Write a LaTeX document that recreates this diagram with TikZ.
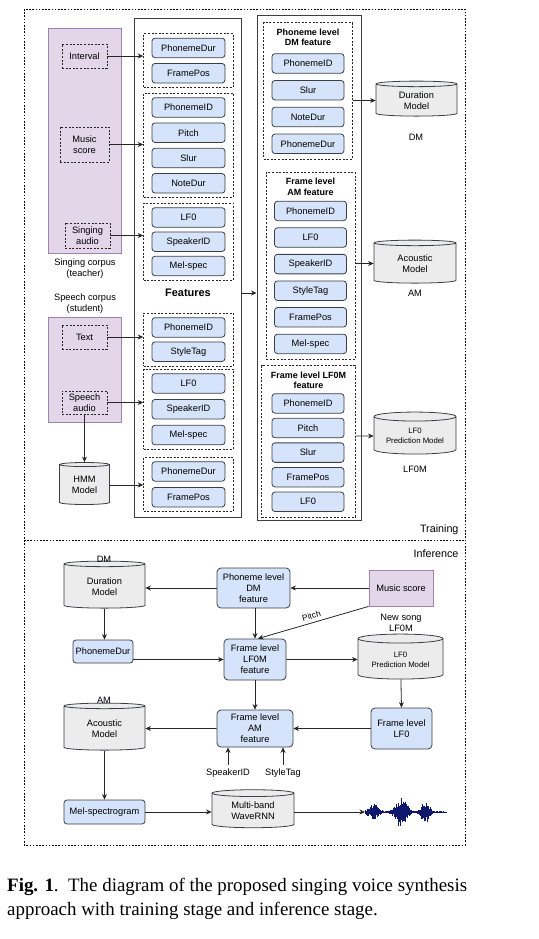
\documentclass[tikz,border=0pt]{standalone}
\usepackage{fontspec}
\setmainfont{Liberation Sans}
\newfontfamily\capfont{Liberation Serif}
\usetikzlibrary{arrows.meta,chains,positioning,fit,shapes.geometric}

\definecolor{featfill}{RGB}{213,228,250}
\definecolor{boxline}{RGB}{60,63,68}
\definecolor{corpfill}{RGB}{226,214,232}
\definecolor{corpline}{RGB}{160,130,175}
\definecolor{dbfill}{RGB}{236,236,236}
\definecolor{wavecol}{RGB}{16,24,110}

\tikzset{
  every node/.style={font=\fontsize{9.3}{11}\selectfont},
  feat/.style={draw=boxline,fill=featfill,rounded corners=3bp,line width=0.8bp,
    minimum width=73bp,minimum height=19.5bp,inner sep=1bp,align=center},
  grp/.style={draw=black!85,line width=0.7bp,dash pattern=on 2bp off 1.6bp,inner xsep=8bp,inner ysep=4bp},
  src/.style={draw=black!85,line width=0.7bp,dash pattern=on 2bp off 1.6bp,align=center,inner sep=1bp},
  corpus/.style={draw=corpline,fill=corpfill,line width=0.8bp,align=center},
  db/.style={cylinder,shape border rotate=90,aspect=0.15,draw=boxline,fill=dbfill,
    line width=0.8bp,align=center,inner sep=1bp},
  ttl/.style={font=\bfseries\fontsize{9}{10.5}\selectfont,align=center,inner sep=1bp},
  arr/.style={-{Stealth[length=5.5bp,width=5bp]},line width=0.8bp,draw=black!85},
}

\begin{document}
\begin{tikzpicture}[x=1bp,y=-1bp]
\useasboundingbox (0,0) rectangle (539,939);

% outer frame
\draw[line width=0.7bp,dash pattern=on 1.6bp off 1.6bp] (24,9) rectangle (465,845);
\draw[line width=0.7bp,dash pattern=on 1.6bp off 1.6bp] (24,540) -- (465,540);
\node[anchor=east,font=\fontsize{10.8}{12}\selectfont] (trainlbl) at (462,530) {Training};
\node[anchor=east,font=\fontsize{10.8}{12}\selectfont] (inflbl) at (462,554) {Inference};

% corpora
\node[corpus,minimum width=73bp,minimum height=225bp] (singcorp) at (84.5,140.5) {};
\node[corpus,minimum width=73bp,minimum height=105bp] (speechcorp) at (84.5,369.5) {};
\node[align=center] (singlbl) at (85,268.5) {Singing corpus\\(teacher)};
\node[align=center] (speechlbl) at (85,304) {Speech corpus\\(student)};

\node[src,minimum width=45bp,minimum height=24bp] (interval) at (84.5,56) {Interval};
\node[src,minimum width=49bp,minimum height=35bp] (music) at (84.5,144.5) {Music\\score};
\node[src,minimum width=45bp,minimum height=25bp] (singaud) at (87.5,235.5) {Singing\\audio};
\node[src,minimum width=45bp,minimum height=24bp] (text) at (84.5,337) {Text};
\node[src,minimum width=45bp,minimum height=23bp] (speechaud) at (84.5,402.5) {Speech\\audio};
\node[db,minimum width=50bp,minimum height=42bp] (hmm) at (84.5,485) {HMM\\Model};

% features
\node[draw=boxline,line width=1bp,minimum width=107bp,minimum height=498bp] (featbox) at (187.5,268) {};
\node[font=\bfseries\fontsize{11}{13}\selectfont] (featlbl) at (188,293) {Features};

\begin{scope}[start chain=ga going below,node distance=5bp]
  \coordinate[on chain=ga] (ga0) at (188.5,32.75);
  \foreach \X [count=\Y] in {PhonemeDur,FramePos}
    {\node[feat,on chain=ga] (ga\Y) {\X};}
\end{scope}
\begin{scope}[start chain=gb going below,node distance=5bp]
  \coordinate[on chain=gb] (gb0) at (188.5,92.25);
  \foreach \X [count=\Y] in {PhonemeID,Pitch,Slur,NoteDur}
    {\node[feat,on chain=gb] (gb\Y) {\X};}
\end{scope}
\begin{scope}[start chain=gc going below,node distance=4bp]
  \coordinate[on chain=gc] (gc0) at (188.5,203.25);
  \foreach \X [count=\Y] in {LF0,SpeakerID,Mel-spec}
    {\node[feat,on chain=gc] (gc\Y) {\X};}
\end{scope}
\begin{scope}[start chain=gd going below,node distance=4bp]
  \coordinate[on chain=gd] (gd0) at (188.5,313.25);
  \foreach \X [count=\Y] in {PhonemeID,StyleTag}
    {\node[feat,on chain=gd] (gd\Y) {\X};}
\end{scope}
\begin{scope}[start chain=ge going below,node distance=5.5bp]
  \coordinate[on chain=ge] (ge0) at (188.5,367.75);
  \foreach \X [count=\Y] in {LF0,SpeakerID,Mel-spec}
    {\node[feat,on chain=ge] (ge\Y) {\X};}
\end{scope}
\begin{scope}[start chain=gf going below,node distance=5.5bp]
  \coordinate[on chain=gf] (gf0) at (188.5,455.75);
  \foreach \X [count=\Y] in {PhonemeDur,FramePos}
    {\node[feat,on chain=gf] (gf\Y) {\X};}
\end{scope}

\node[grp,fit=(ga1)(ga2)] (gA) {};
\node[grp,fit=(gb1)(gb4)] (gB) {};
\node[grp,fit=(gc1)(gc3)] (gC) {};
\node[grp,fit=(gd1)(gd2)] (gD) {};
\node[grp,fit=(ge1)(ge3)] (gE) {};
\node[grp,fit=(gf1)(gf2)] (gF) {};

% level features
\node[draw=boxline,line width=1bp,minimum width=104bp,minimum height=504bp] (lvlbox) at (309,268) {};

\node[ttl] (dmttl) at (308,37.5) {Phoneme level\\DM feature};
\begin{scope}[start chain=dm going below,node distance=6.5bp]
  \coordinate[on chain=dm] (dm0) at (308,46.75);
  \foreach \X [count=\Y] in {PhonemeID,Slur,NoteDur,PhonemeDur}
    {\node[feat,minimum width=72bp,on chain=dm] (dm\Y) {\X};}
\end{scope}
\node[ttl] (amttl) at (310.5,187) {Frame level\\AM feature};
\begin{scope}[start chain=am going below,node distance=6.3bp]
  \coordinate[on chain=am] (am0) at (310.5,194.45);
  \foreach \X [count=\Y] in {PhonemeID,LF0,SpeakerID,StyleTag,FramePos,Mel-spec}
    {\node[feat,minimum width=72bp,on chain=am] (am\Y) {\X};}
\end{scope}
\node[ttl] (lfttl) at (308.5,380.5) {Frame level LF0M\\feature};
\begin{scope}[start chain=lf going below,node distance=4.3bp]
  \coordinate[on chain=lf] (lf0) at (308,388.95);
  \foreach \X [count=\Y] in {PhonemeID,Pitch,Slur,FramePos,LF0}
    {\node[feat,minimum width=72bp,on chain=lf] (lf\Y) {\X};}
\end{scope}

\node[grp,inner ysep=5bp,fit=(dmttl)(dm1)(dm4)] (gDM) {};
\node[grp,inner ysep=5bp,fit=(amttl)(am1)(am6)] (gAM) {};
\node[grp,inner ysep=5bp,fit=(lfttl)(lf1)(lf5)] (gLF) {};

% models
\node[db,minimum width=81bp,minimum height=35bp] (dmdb) at (416.5,100.5) {Duration\\Model};
\node (dmlbl) at (416,137) {DM};
\node[db,minimum width=82bp,minimum height=43bp] (amdb) at (415,263.5) {Acoustic\\Model};
\node (amlbl) at (415,293) {AM};
\node[db,minimum width=82bp,minimum height=42bp,font=\fontsize{7.8}{10}\selectfont] (lfdb) at (415,436) {LF0\\Prediction Model};
\node (lflbl) at (415,469) {LF0M};

% training arrows
\draw[arr] (interval.east) -- (interval.east -| gA.west);
\draw[arr] (music.east) -- (music.east -| gB.west);
\draw[arr] (singaud.east) -- (singaud.east -| gC.west);
\draw[arr] (text.east) -- (text.east -| gD.west);
\draw[arr] (speechaud.east) -- (speechaud.east -| gE.west);
\draw[arr] (hmm.east) -- (hmm.east -| gF.west);
\draw[arr] (speechaud.south) -- (hmm);
\draw[arr] (featlbl -| featbox.east) -- (featlbl -| lvlbox.west);
\draw[arr] (dmdb -| gDM.east) -- (dmdb.west);
\draw[arr] (amdb -| gAM.east) -- (amdb.west);
\draw[arr] (lfdb -| gLF.east) -- (lfdb.west);

% inference
\node[db,minimum width=81bp,minimum height=47bp] (dminf) at (104.5,586.5) {Duration\\Model};
\node (dminflbl) at (104,559) {DM};
\node[feat,rounded corners=4bp,minimum width=73bp,minimum height=40bp] (dmfeat) at (253.5,588) {Phoneme level\\DM\\feature};
\node[corpus,minimum width=64bp,minimum height=36bp] (scoreinf) at (401,588) {Music score};
\node[feat,rounded corners=4bp,minimum width=62bp,minimum height=41bp] (lfmfeat) at (255,659.5) {Frame level\\LF0M\\feature};
\node[feat,minimum width=60bp,minimum height=23bp] (pdurinf) at (103,651.5) {PhonemeDur};
\node[db,minimum width=85bp,minimum height=45bp,font=\fontsize{7.8}{10}\selectfont] (lfinf) at (400.5,659.5) {LF0\\Prediction Model};
\node[align=center] (lfinflbl) at (401,623) {New song\\LF0M};
\node[feat,rounded corners=4bp,minimum width=61bp,minimum height=41bp] (lf0inf) at (401.5,728.5) {Frame level\\LF0};
\node[feat,rounded corners=4bp,minimum width=76bp,minimum height=37bp] (amfeat) at (255,728.5) {Frame level\\AM\\feature};
\node[db,minimum width=81bp,minimum height=47bp] (aminf) at (104.5,728.5) {Acoustic\\Model};
\node (aminflbl) at (104,700) {AM};
\node[feat,minimum width=81bp,minimum height=24bp] (melinf) at (104.5,812) {Mel-spectrogram};
\node[db,minimum width=82bp,minimum height=38bp] (wavernn) at (253,811) {Multi-band\\WaveRNN};
\node (spk) at (228,773) {SpeakerID};
\node (stl) at (283,773) {StyleTag};
\coordinate (wave) at (365,812);

% waveform
\pgfmathsetseed{7}
\draw[wavecol,line width=0.5bp] (365,812) -- (447,812);
\foreach \t in {0,0.6,...,80}{
  \pgfmathsetmacro\env{0.8+8*exp(-(\t-8)*(\t-8)/40)+15*exp(-(\t-36)*(\t-36)/50)+10*exp(-(\t-60)*(\t-60)/25)}
  \pgfmathsetmacro\up{\env*(0.3+0.7*rnd)}
  \pgfmathsetmacro\dn{\env*(0.3+0.7*rnd)}
  \draw[wavecol,line width=0.6bp] (365+\t,812-\up) -- (365+\t,812+\dn);
}

% inference arrows
\draw[arr] (dmfeat.west) -- (dmfeat.west -| dminf.east);
\draw[arr] (scoreinf.west) -- (dmfeat.east);
\draw[arr] (scoreinf.south west) -- ([xshift=3bp]lfmfeat.north)
  node[midway,sloped,above,font=\fontsize{8.5}{10}\selectfont] {Pitch};
\draw[arr] (dmfeat.south -| lfmfeat) -- (lfmfeat.north);
\draw[arr] (dminf) -- (dminf |- pdurinf.north);
\draw[arr] (pdurinf.east |- lfmfeat) -- (lfmfeat.west);
\draw[arr] (lfmfeat.east) -- (lfinf);
\draw[arr] (lfinf) -- (lf0inf.north);
\draw[arr] (lf0inf.west) -- (amfeat.east);
\draw[arr] (lfmfeat.south) -- (amfeat.north);
\draw[arr] (amfeat.west) -- (aminf);
\draw[arr] (aminf) -- (aminf |- melinf.north);
\draw[arr] (melinf.east) -- (melinf.east -| wavernn.west);
\draw[arr] (wave -| wavernn.east) -- (wave);
\draw[arr] (spk.north) -- (spk.north |- amfeat.south);
\draw[arr] (stl.north) -- (stl.north |- amfeat.south);

% caption
\node[anchor=north west,inner sep=0,align=left,font=\capfont\fontsize{19}{24}\selectfont] (cap) at (7,878)
  {\textbf{Fig. 1}.\ \ The diagram of the proposed singing voice synthesis\\approach with training stage and inference stage.};
\end{tikzpicture}
\end{document}
